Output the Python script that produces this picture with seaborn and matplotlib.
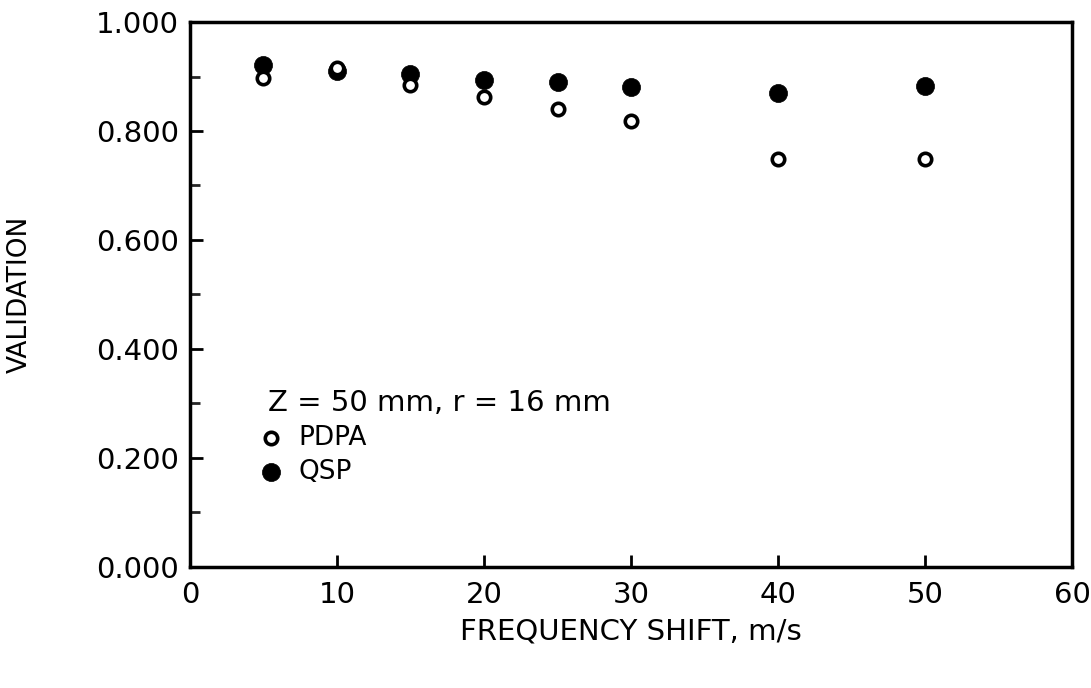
import matplotlib
matplotlib.use("Agg")
import matplotlib.pyplot as plt
import seaborn as sns
import pandas as pd
from matplotlib.ticker import MultipleLocator, FormatStrFormatter

freq = [5, 10, 15, 20, 25, 30, 40, 50]
pdpa = [0.897, 0.915, 0.884, 0.862, 0.841, 0.818, 0.749, 0.749]
qsp = [0.922, 0.910, 0.904, 0.893, 0.890, 0.881, 0.869, 0.882]
legend_title = "Z = 50 mm, r = 16 mm"

sns.set_theme(style="ticks")
plt.rcParams["font.family"] = ["DejaVu Sans"]
plt.rcParams["text.color"] = "black"
plt.rcParams["axes.labelcolor"] = "black"

fig = plt.figure(figsize=(10.91, 6.88), dpi=100)
ax = fig.add_axes([0.174, 0.176, 0.809, 0.792])

sns.scatterplot(x=freq, y=pdpa, ax=ax, marker="o", s=130, facecolor="white",
                edgecolor="black", linewidth=2.6, label="PDPA", zorder=3)
sns.scatterplot(x=freq, y=qsp, ax=ax, marker="o", s=190, color="black",
                edgecolor="black", linewidth=0.5, label="QSP", zorder=2)

ax.set_xlim(0, 60)
ax.set_ylim(0, 1.0)
ax.xaxis.set_major_locator(MultipleLocator(10))
ax.yaxis.set_major_locator(MultipleLocator(0.2))
ax.yaxis.set_minor_locator(MultipleLocator(0.1))
ax.yaxis.set_major_formatter(FormatStrFormatter("%.3f"))
ax.tick_params(axis="both", which="major", direction="in", length=9, width=2,
               labelsize=21, colors="black", pad=8)
ax.tick_params(axis="y", which="minor", direction="in", length=7, width=2)
ax.tick_params(axis="x", which="major", pad=10)
for sp in ax.spines.values():
    sp.set_linewidth(2.5)
    sp.set_color("black")
    sp.set_visible(True)

ax.set_xlabel("FREQUENCY SHIFT, m/s", fontsize=21, labelpad=6)
ax.set_ylabel("VALIDATION", fontsize=19, labelpad=45)

handles, labels = ax.get_legend_handles_labels()
handles[0].set_sizes([80])
handles[1].set_sizes([170])
leg = ax.legend(handles, labels, title=legend_title, loc="upper left",
                bbox_to_anchor=(0.077, 0.345), frameon=False, fontsize=19,
                title_fontsize=21, alignment="left", handletextpad=0.95,
                labelspacing=0.3, borderaxespad=0, handlelength=0.2)

fig.savefig("out.png", dpi=100, facecolor="white")
